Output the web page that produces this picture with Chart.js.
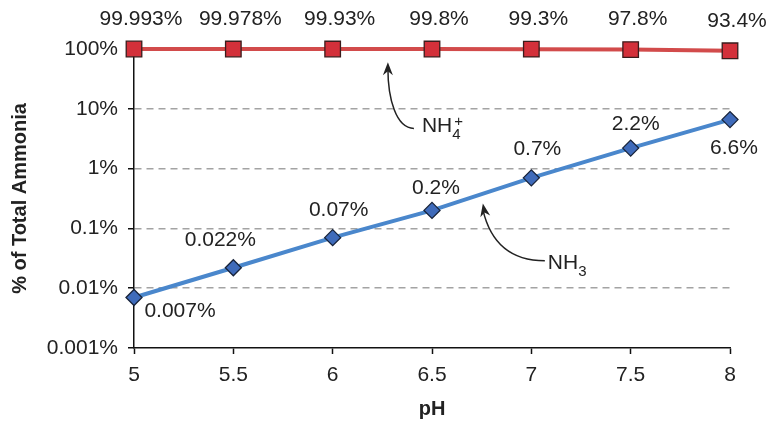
<!DOCTYPE html>
<html>
<head>
<meta charset="utf-8">
<script src="https://cdn.jsdelivr.net/npm/chart.js@4"></script>
<style>
body{margin:0;background:#fff;}
#wrap{width:773px;height:428px;position:relative;}
</style>
</head>
<body>
<div id="wrap"><canvas id="chart"></canvas></div>
<script>
'use strict';

const ph = [5, 5.5, 6, 6.5, 7, 7.5, 8];
const nh4 = [99.993, 99.978, 99.93, 99.8, 99.3, 97.8, 93.4];
const nh3 = [0.007, 0.022, 0.07, 0.2, 0.7, 2.2, 6.6];
const phTicks = [5, 5.5, 6, 6.5, 7, 7.5, 8];
const pctTicks = [100, 10, 1, 0.1, 0.01, 0.001];

const FONT = '"Liberation Sans", Arial, Helvetica, sans-serif';

// where each value label sits relative to its point (px)
const nh4Off = ph.map(() => [7, -30]);
const nh3Off = [[46,14],[-13,-28],[6,-27],[4,-22],[6,-29],[5,-24],[4,29]];

// arrow callouts, tip and tail in data units, bend and text in px
const callouts = [
  {tip:[6.278, 60], tail:[6.409, 4.7], c1:[-18,0], c2:[0,36], txt:'NH', sub:'4', sup:'+', tx:8, ty:4},
  {tip:[6.756, 0.26], tail:[7.068, 0.0288], c1:[-40,0], c2:[6,32], txt:'NH', sub:'3', sup:'', tx:3, ty:8}
];

const labelPlugin = {
  id: 'valueLabels',
  afterDatasetsDraw(chart) {
    const ctx = chart.ctx;
    ctx.save();
    ctx.font = '21px ' + FONT;
    ctx.fillStyle = '#222';
    ctx.textAlign = 'center';
    ctx.textBaseline = 'middle';
    chart.data.datasets.forEach((ds, i) => {
      const offs = i === 0 ? nh4Off : nh3Off;
      chart.getDatasetMeta(i).data.forEach((pt, j) => {
        ctx.fillText(ds.data[j].y + '%', pt.x + offs[j][0], pt.y + offs[j][1]);
      });
    });
    ctx.restore();
  }
};

const arrowPlugin = {
  id: 'callouts',
  afterDraw(chart) {
    const ctx = chart.ctx;
    const xs = chart.scales.x, ys = chart.scales.y;
    ctx.save();
    callouts.forEach(c => {
      const tx = xs.getPixelForValue(c.tip[0]), ty = ys.getPixelForValue(c.tip[1]);
      const sx = xs.getPixelForValue(c.tail[0]), sy = ys.getPixelForValue(c.tail[1]);
      const c1x = sx + c.c1[0], c1y = sy + c.c1[1];
      const c2x = tx + c.c2[0], c2y = ty + c.c2[1];
      ctx.strokeStyle = '#222';
      ctx.fillStyle = '#222';
      ctx.lineWidth = 1.5;
      ctx.beginPath();
      ctx.moveTo(sx, sy);
      ctx.bezierCurveTo(c1x, c1y, c2x, c2y, tx, ty + 6);
      ctx.stroke();
      // arrow head
      const a = Math.atan2(ty - c2y, tx - c2x);
      const L = 13, W = 5;
      ctx.beginPath();
      ctx.moveTo(tx, ty);
      ctx.lineTo(tx - L * Math.cos(a) + W * Math.sin(a), ty - L * Math.sin(a) - W * Math.cos(a));
      ctx.lineTo(tx - L * 0.7 * Math.cos(a), ty - L * 0.7 * Math.sin(a));
      ctx.lineTo(tx - L * Math.cos(a) - W * Math.sin(a), ty - L * Math.sin(a) + W * Math.cos(a));
      ctx.closePath();
      ctx.fill();
      // text
      ctx.textAlign = 'left';
      ctx.textBaseline = 'alphabetic';
      ctx.font = '21px ' + FONT;
      const bx = sx + c.tx, by = sy + c.ty;
      ctx.fillText(c.txt, bx, by);
      const w = ctx.measureText(c.txt).width;
      ctx.font = '15px ' + FONT;
      ctx.fillText(c.sub, bx + w, by + 7);
      if (c.sup) ctx.fillText(c.sup, bx + w + 2, by - 6);
    });
    ctx.restore();
  }
};

Chart.defaults.font.family = FONT;
Chart.defaults.font.size = 21;
Chart.defaults.color = '#222';

new Chart(document.getElementById('chart'), {
  type: 'line',
  data: {
    datasets: [
      {
        label: 'NH4+',
        data: ph.map((x, i) => ({x, y: nh4[i]})),
        borderColor: '#d24b4b',
        borderWidth: 4,
        pointStyle: 'rect',
        pointRadius: 11,
        pointHoverRadius: 11,
        pointBackgroundColor: '#d3303a',
        pointBorderColor: '#3a1c1c',
        pointBorderWidth: 1.3,
        tension: 0,
        clip: false
      },
      {
        label: 'NH3',
        data: ph.map((x, i) => ({x, y: nh3[i]})),
        borderColor: '#4a87cc',
        borderWidth: 4,
        pointStyle: 'rectRot',
        pointRadius: 8,
        pointHoverRadius: 8,
        pointBackgroundColor: '#3f6bba',
        pointBorderColor: '#17233a',
        pointBorderWidth: 1.3,
        tension: 0,
        clip: false
      }
    ]
  },
  options: {
    responsive: true,
    maintainAspectRatio: false,
    animation: false,
    layout: {padding: {top: 49, right: 43, left: 0, bottom: 0}},
    plugins: {legend: {display: false}, tooltip: {enabled: false}},
    scales: {
      x: {
        type: 'linear',
        min: 5,
        max: 8,
        afterBuildTicks: axis => { axis.ticks = phTicks.map(v => ({value: v})); },
        afterFit: axis => { axis.height = 80; },
        ticks: {callback: v => String(v), padding: 9, color: '#222'},
        grid: {drawOnChartArea: false, tickLength: 6, tickColor: '#111', tickWidth: 1.5},
        border: {color: '#111', width: 1.5},
        title: {display: true, text: 'pH', font: {size: 20, weight: 'bold'}, color: '#222', padding: {top: 0, bottom: 7}}
      },
      y: {
        type: 'logarithmic',
        min: 0.001,
        max: 100,
        afterBuildTicks: axis => { axis.ticks = pctTicks.map(v => ({value: v})); },
        afterFit: axis => { axis.width = 134; },
        ticks: {callback: v => v + '%', padding: 10, color: '#222'},
        grid: {
          color: c => (c.tick && (c.tick.value === 100 || c.tick.value === 0.001)) ? 'rgba(0,0,0,0)' : '#a3a3a3',
          lineWidth: 1.5,
          borderDash: [7, 5],
          tickLength: 6,
          tickColor: '#111',
          tickWidth: 1.5,
          tickBorderDash: []
        },
        border: {color: '#111', width: 1.5, dash: [7, 5]},
        title: {display: true, text: '% of Total Ammonia', font: {size: 20, weight: 'bold'}, color: '#222', padding: {top: 8, bottom: 0}}
      }
    }
  },
  plugins: [labelPlugin, arrowPlugin]
});
</script>
</body>
</html>
